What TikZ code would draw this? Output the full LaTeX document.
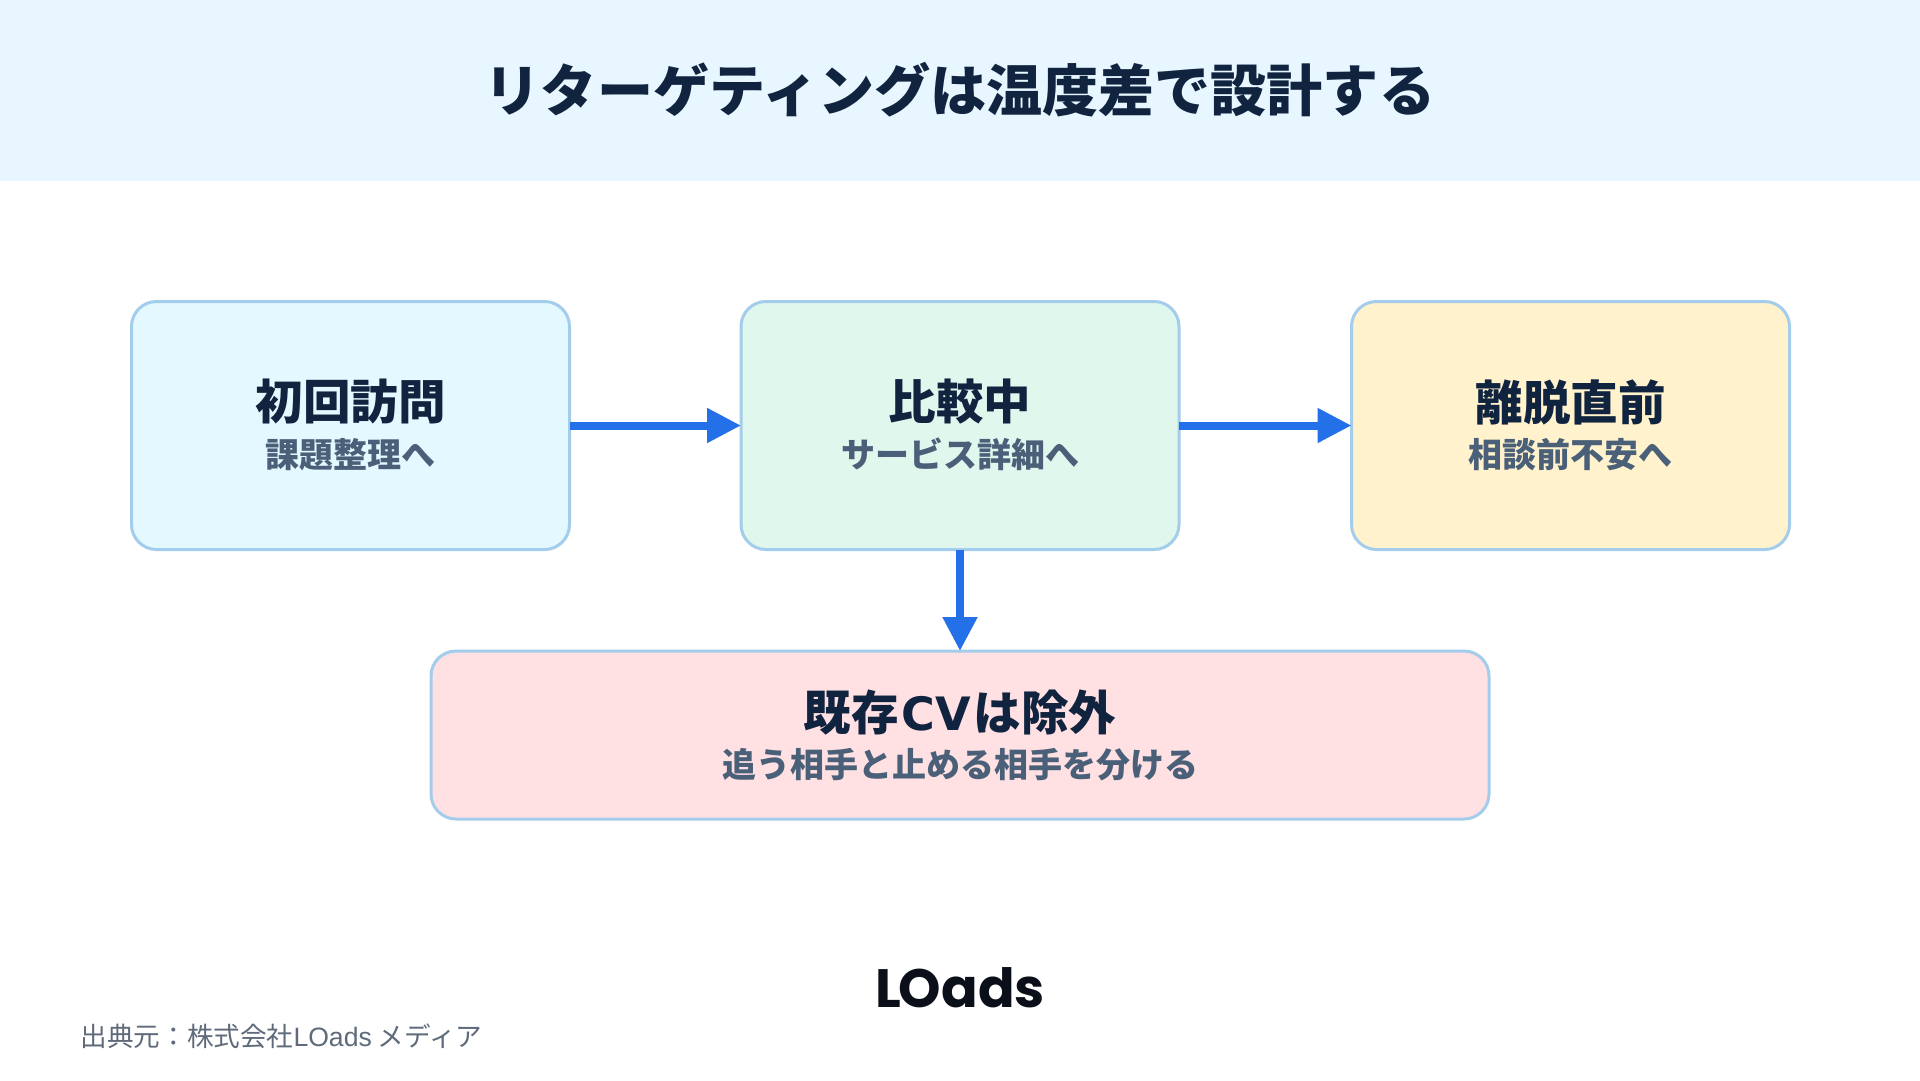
\documentclass[tikz,border=0pt]{standalone}
\usepackage{fontspec}
\setmainfont{Noto Sans CJK JP}
\newfontfamily\logofont{Poppins}
\newfontfamily\latinfont{Liberation Sans}
\newfontfamily\widelatin{DejaVu Sans}
\usetikzlibrary{arrows.meta}
\definecolor{headbg}{HTML}{E7F6FF}
\definecolor{ink}{HTML}{10233F}
\definecolor{subink}{HTML}{4A5F78}
\definecolor{edge}{HTML}{A3CDEB}
\definecolor{flow}{HTML}{2470E8}
\definecolor{footink}{HTML}{5F6B7A}
\definecolor{logoink}{HTML}{0B0F19}
\definecolor{fillA}{HTML}{E4F9FF}
\definecolor{fillB}{HTML}{E0F7EE}
\definecolor{fillC}{HTML}{FFF2CC}
\definecolor{fillD}{HTML}{FFE0E3}
\newcommand{\fsz}[1]{\fontsize{#1}{#1}\selectfont}
\tikzset{
  x=1pt,y=-1pt,
  card/.style={draw=edge,line width=3pt,rounded corners=25pt,outer sep=0pt,inner sep=0pt,minimum height=248pt,minimum width=438pt},
  cardtitle/.style={text=ink,font=\fsz{47.5}\bfseries,inner sep=0pt},
  cardsub/.style={text=subink,font=\fsz{34}\bfseries,inner sep=0pt},
  flowline/.style={draw=flow,line width=8pt,-{Triangle[length=34pt,width=33pt]}},
}
\begin{document}
\begin{tikzpicture}
\useasboundingbox (0,0) rectangle (1920,1080);
\fill[white] (0,0) rectangle (1920,1080);
\fill[headbg] (0,0) rectangle (1920,181);
\node[text=ink,font=\fsz{56.1}\bfseries,inner sep=0pt] (title) at (960,90) {リターゲティングは温度差で設計する};
\node[card,fill=fillA] (a) at (350.5,425.5) {};
\node[card,fill=fillB] (b) at (960,425.5) {};
\node[card,fill=fillC] (c) at (1570.5,425.5) {};
\node[card,fill=fillD,minimum width=1058pt,minimum height=168pt] (d) at (960,735) {};
\node[cardtitle] (at) at (350.5,402) {初回訪問};
\node[cardsub] (as) at (350.5,454.5) {課題整理へ};
\node[cardtitle] (bt) at (960,402) {比較中};
\node[cardsub] (bs) at (960,454.5) {サービス詳細へ};
\node[cardtitle] (ct) at (1570.5,402) {離脱直前};
\node[cardsub] (cs) at (1570.5,454.5) {相談前不安へ};
\node[cardtitle] (dt) at (960,713) {既存\kern3pt{\widelatin\bfseries\fsz{46}CV}\kern3pt は除外};
\node[cardsub] (ds) at (960,764.5) {追う相手と止める相手を分ける};
\draw[flowline] (a) -- (b);
\draw[flowline] (b) -- (c);
\draw[flowline] (b) -- (d);
\node[text=logoink,font=\logofont\fsz{54}\bfseries,inner sep=0pt] (logo) at (960,988) {L\kern-2pt Oads};
\node[text=footink,font=\fsz{26.6},anchor=west,inner sep=0pt] (foot) at (80.5,1036) {出典元：株式会社{\latinfont LOads} メディア};
\end{tikzpicture}
\end{document}
